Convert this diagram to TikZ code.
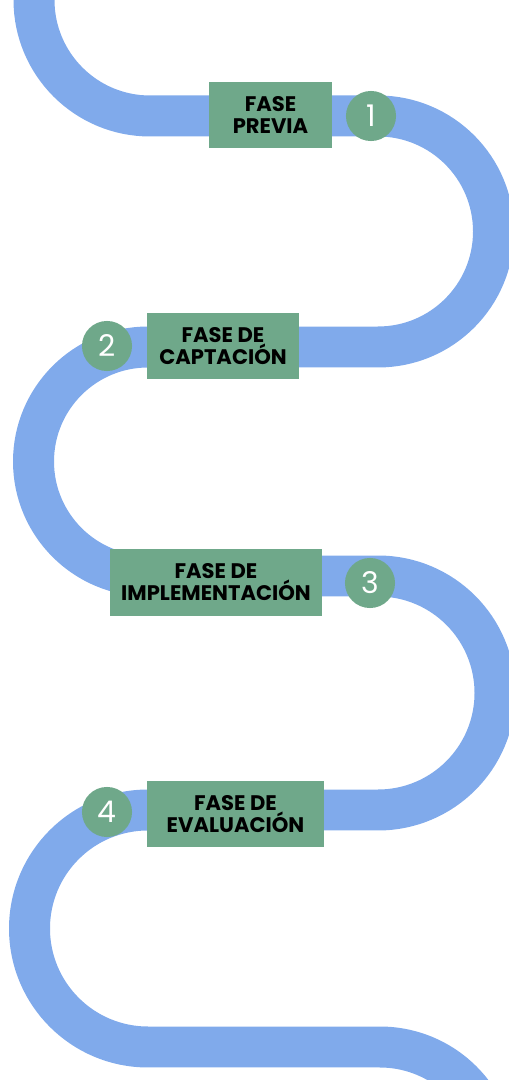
\documentclass[tikz,border=0pt]{standalone}
\usepackage{fontspec}
\setmainfont{Poppins}
\usepackage{tikz}
\definecolor{azulcamino}{RGB}{128,170,235}
\definecolor{verdefase}{RGB}{111,168,138}
\tikzset{
  camino/.style={draw=azulcamino, line width=0.82cm, line cap=butt, line join=round},
  fase/.style={rectangle, fill=verdefase, minimum height=37.6pt, inner sep=0pt, align=center,
    font=\bfseries\fontsize{12}{12.5}\selectfont},
  num/.style={circle, fill=verdefase, minimum size=28.5pt, inner sep=0pt, text=white,
    font=\fontsize{17}{17}\selectfont}
}

\begin{document}
\begin{tikzpicture}[x=0.02cm,y=0.02cm]
    \useasboundingbox (0,0) rectangle (509,1080);
    \clip (0,0) rectangle (509,1080);
    % el camino
    \draw [camino] (34,1095) -- (34,1080) arc[start angle=180, end angle=270, radius=116]
      -- (378,964) arc[start angle=90, end angle=-90, radius=115.5]
      -- (148,733) arc[start angle=90, end angle=270, radius=114.5]
      -- (378,504) arc[start angle=90, end angle=-90, radius=117]
      -- (148,270) arc[start angle=90, end angle=270, radius=118.5]
      -- (380,33) arc[start angle=90, end angle=10, radius=116];
    % fases
    \node [fase, minimum width=70pt]    (previa)   at (270.5,965) {FASE\\PREVIA};
    \node [fase, minimum width=86.5pt]  (captacion) at (223,734)  {FASE DE\\CAPTACIÓN};
    \node [fase, minimum width=120.6pt] (implem)   at (216,497.5) {FASE DE\\IMPLEMENTACIÓN};
    \node [fase, minimum width=100.7pt] (evalua)   at (235.5,266) {FASE DE\\EVALUACIÓN};
    % numeros
    \node [num] (n1) at (371,964) {1};
    \node [num] (n2) at (107,734) {2};
    \node [num] (n3) at (370,497) {3};
    \node [num] (n4) at (107,268) {4};
\end{tikzpicture}
\end{document}
